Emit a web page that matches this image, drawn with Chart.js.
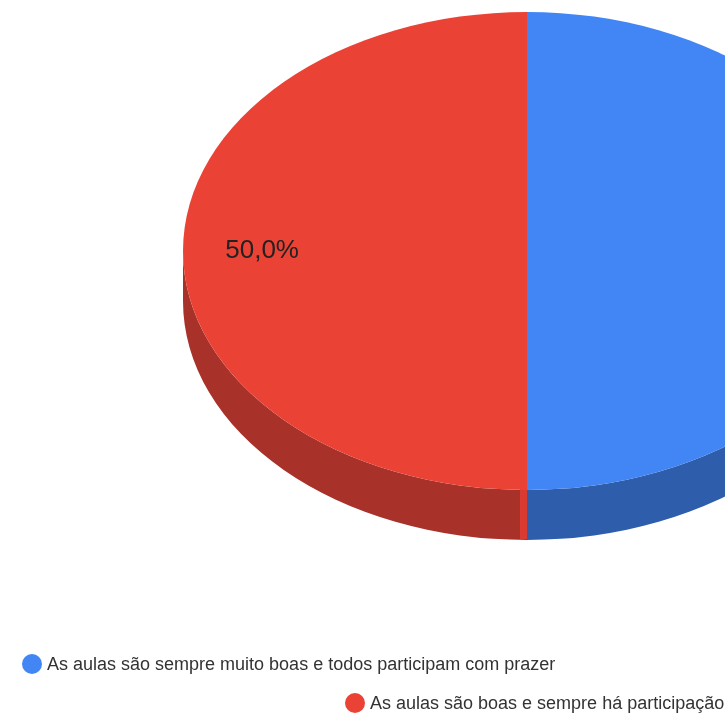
<!DOCTYPE html>
<html lang="pt">
<head>
<meta charset="UTF-8">
<title>Aulas</title>
<script src="https://cdn.jsdelivr.net/npm/chart.js"></script>
<style>
    html, body {
        margin: 0;
        padding: 0;
        background: #ffffff;
        overflow: hidden;
    }
    #wrap {
        position: relative;
        width: 725px;
        height: 715px;
    }
    #pieChart {
        position: absolute;
        left: 0;
        top: 0;
    }
    .legend-item {
        position: absolute;
        white-space: nowrap;
        font-family: "Liberation Sans", Arial, sans-serif;
        font-size: 18px;
        color: #333333;
        line-height: 22px;
    }
    .legend-item .dot {
        position: absolute;
        width: 20px;
        height: 20px;
        border-radius: 50%;
        left: -25px;
        top: 1px;
    }
</style>
</head>
<body>

<div id="wrap">
    <canvas id="pieChart" width="725" height="715"></canvas>
    <div id="legend"></div>
</div>

<script>
const labels = [
    'As aulas são sempre muito boas e todos participam com prazer',
    'As aulas são boas e sempre há participação'
];
const values = [1, 1];
const colors = ['#4285F4', '#EA4335'];
const sideColors = ['#2E5EAB', '#A8322A'];
const cutColors = ['#3A72D0', '#D93B30'];

// ellipse the pie is projected onto, plus the thickness of the rim
const tilt = { cx: 527, cy: 251, rx: 344, ry: 239, depth: 50, labelAt: 0.77, cut: 7 };

const tiltPlugin = {
    id: 'tilt3d',
    beforeDatasetsDraw(chart) {
        const ctx = chart.ctx;
        const arcs = chart.getDatasetMeta(0).data;
        ctx.save();

        // rim: only the part of each slice facing the viewer (angles 0..PI)
        arcs.forEach((arc, i) => {
            const a1 = Math.max(arc.startAngle, 0);
            const a2 = Math.min(arc.endAngle, Math.PI);
            if (a2 <= a1) return;
            ctx.beginPath();
            ctx.ellipse(tilt.cx, tilt.cy, tilt.rx, tilt.ry, 0, a1, a2);
            ctx.ellipse(tilt.cx, tilt.cy + tilt.depth, tilt.rx, tilt.ry, 0, a2, a1, true);
            ctx.closePath();
            ctx.fillStyle = sideColors[i];
            ctx.fill();
        });

        // thin sliver of the cut face where a slice starts on the front rim
        arcs.forEach((arc, i) => {
            const a = arc.startAngle;
            if (a <= 0 || a >= Math.PI) return;
            const x = tilt.cx + tilt.rx * Math.cos(a);
            const y = tilt.cy + tilt.ry * Math.sin(a);
            ctx.fillStyle = cutColors[i];
            ctx.fillRect(x - tilt.cut, y - 1, tilt.cut, tilt.depth);
        });

        // squash the library's circle into the top face ellipse
        const a = arcs[0];
        ctx.translate(tilt.cx, tilt.cy);
        ctx.scale(tilt.rx / a.outerRadius, tilt.ry / a.outerRadius);
        ctx.translate(-a.x, -a.y);
    },
    afterDatasetsDraw(chart) {
        const ctx = chart.ctx;
        ctx.restore();

        const arcs = chart.getDatasetMeta(0).data;
        const total = values.reduce((s, v) => s + v, 0);
        ctx.save();
        ctx.font = '26px "Liberation Sans", Arial, sans-serif';
        ctx.fillStyle = '#222222';
        ctx.textAlign = 'center';
        ctx.textBaseline = 'middle';
        arcs.forEach((arc, i) => {
            const mid = (arc.startAngle + arc.endAngle) / 2;
            const x = tilt.cx + tilt.labelAt * tilt.rx * Math.cos(mid);
            const y = tilt.cy + tilt.labelAt * tilt.ry * Math.sin(mid);
            const pct = (values[i] / total * 100).toFixed(1).replace('.', ',') + '%';
            ctx.fillText(pct, x, y);
        });
        ctx.restore();
    }
};

new Chart(document.getElementById('pieChart'), {
    type: 'pie',
    data: {
        labels: labels,
        datasets: [{
            data: values,
            backgroundColor: colors,
            borderWidth: 0
        }]
    },
    options: {
        responsive: false,
        animation: false,
        layout: { padding: 0 },
        plugins: {
            legend: { display: false },
            tooltip: { enabled: false }
        }
    },
    plugins: [tiltPlugin]
});

// legend rows, the second one sits lower and further right
const legendPos = [{ left: 47, top: 653 }, { left: 370, top: 692 }];
const legend = document.getElementById('legend');
labels.forEach((text, i) => {
    const item = document.createElement('div');
    item.className = 'legend-item';
    item.style.left = legendPos[i].left + 'px';
    item.style.top = legendPos[i].top + 'px';
    const dot = document.createElement('span');
    dot.className = 'dot';
    dot.style.background = colors[i];
    item.appendChild(dot);
    item.appendChild(document.createTextNode(text));
    legend.appendChild(item);
});
</script>

</body>
</html>
